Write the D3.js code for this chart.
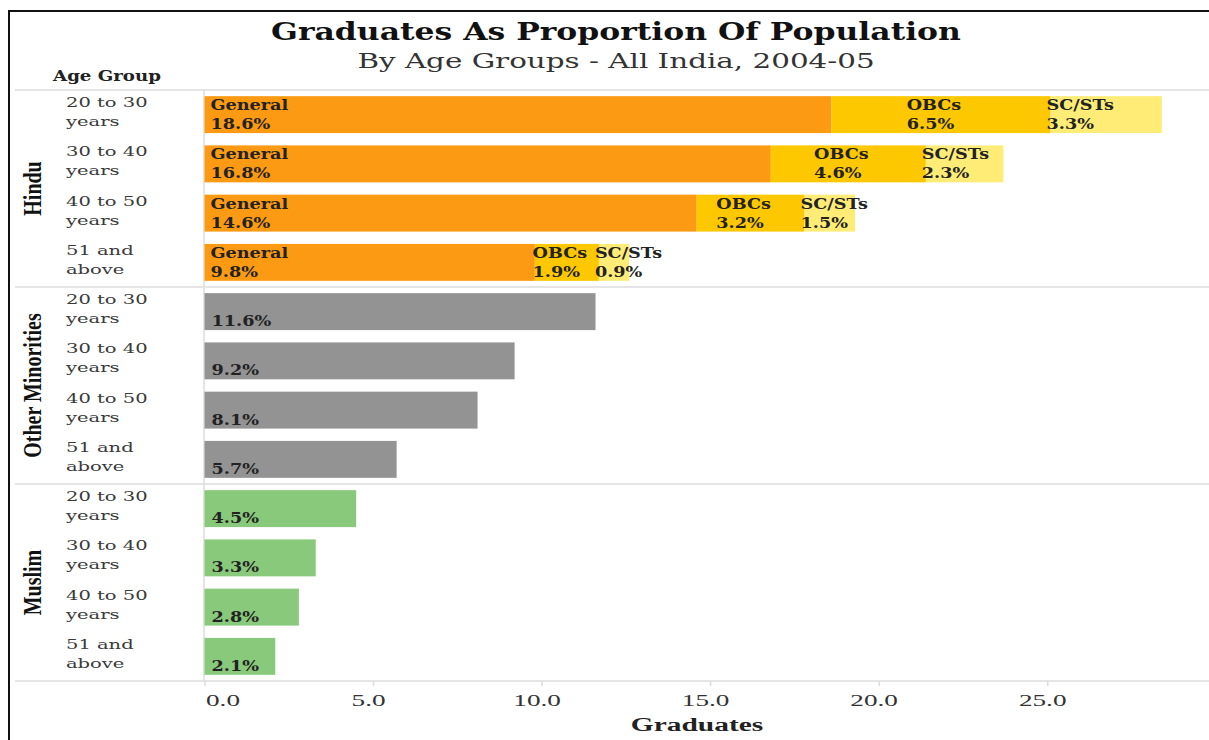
<!DOCTYPE html>
<html>
<head>
<meta charset="utf-8">
<script src="https://cdn.jsdelivr.net/npm/d3@7"></script>
<style>
  html, body { margin: 0; padding: 0; background: #fff; }
  svg { display: block; }
</style>
</head>
<body>
<svg id="chart" width="1209" height="740"></svg>
<script>
// ---- data ----
const religions = ["Hindu", "Other Minorities", "Muslim"];
const ageGroups = ["20 to 30 years", "30 to 40 years", "40 to 50 years", "51 and above"];
const ageLines = [["20 to 30", "years"], ["30 to 40", "years"], ["40 to 50", "years"], ["51 and", "above"]];
const casteKeys = ["General", "OBCs", "SC/STs"];
const hinduGeneral = [18.6, 16.8, 14.6, 9.8];
const hinduOBCs = [6.5, 4.6, 3.2, 1.9];
const hinduSCSTs = [3.3, 2.3, 1.5, 0.9];
const otherMinorities = [11.6, 9.2, 8.1, 5.7];
const muslim = [4.5, 3.3, 2.8, 2.1];
const xTicks = [0, 5, 10, 15, 20, 25];

const titleText = "Graduates As Proportion Of Population";
const subtitleText = "By Age Groups - All India, 2004-05";
const rowHeaderText = "Age Group";
const xAxisTitle = "Graduates";

// ---- styles ----
const casteColors = { "General": "#FD9A13", "OBCs": "#FEC800", "SC/STs": "#FFEC76" };
const religionColors = { "Other Minorities": "#939393", "Muslim": "#89C97B" };
const SERIF_A = "'DejaVu Serif', serif";
const SERIF_T = "'Liberation Serif', 'Times New Roman', serif";

const svg = d3.select("#chart");
const W = 1209, H = 740;

// helper: horizontally stretched text
function stext(g, str, x, y, o) {
  const t = g.append("text")
    .attr("transform", `translate(${x},${y}) scale(${o.sx || 1},1)` + (o.rot ? ` rotate(${o.rot})` : ""))
    .attr("font-family", o.family)
    .attr("font-size", o.size)
    .attr("font-weight", o.weight || "normal")
    .attr("fill", o.fill || "#222")
    .attr("text-anchor", o.anchor || "start")
    .text(str);
  return t;
}

// frame
svg.append("path")
  .attr("d", `M9,${H + 5}V11H${W + 5}`)
  .attr("fill", "none").attr("stroke", "#111").attr("stroke-width", 2);

// title
stext(svg, titleText, 616, 40, { family: SERIF_A, size: 24, weight: "bold", sx: 1.31, anchor: "middle", fill: "#111" });
stext(svg, subtitleText, 616, 68, { family: SERIF_A, size: 20, sx: 1.47, anchor: "middle", fill: "#333" });
stext(svg, rowHeaderText, 107, 81, { family: SERIF_A, size: 14, weight: "bold", sx: 1.3, anchor: "middle", fill: "#222" });

// scales
const plotLeft = 204.5, plotRight = 1209, plotTop = 90, plotBottom = 681;
const x = d3.scaleLinear().domain([0, 29.8]).range([plotLeft, plotRight]);
const yPanel = d3.scaleBand().domain(religions).range([plotTop, plotBottom]).padding(0);
const yRow = d3.scaleBand().domain(ageGroups).range([0, yPanel.bandwidth()]).paddingInner(0.25).paddingOuter(0.125);
const yRowFull = d3.scaleBand().domain(ageGroups).range([0, yPanel.bandwidth()]).padding(0);

// grid / separators
const gridColor = "#dcdcdc";
const seps = religions.map(r => yPanel(r)).concat([plotBottom]);
svg.append("g").selectAll("line").data(seps).join("line")
  .attr("x1", 15).attr("x2", W).attr("y1", d => d).attr("y2", d => d)
  .attr("stroke", gridColor).attr("stroke-width", 1.5);
svg.append("line").attr("x1", plotLeft - 0.5).attr("x2", plotLeft - 0.5)
  .attr("y1", plotTop).attr("y2", plotBottom)
  .attr("stroke", gridColor).attr("stroke-width", 1.5);

// panels
const labelFont = { family: SERIF_A, size: 14, weight: "bold", sx: 1.26, fill: "#222" };

religions.forEach((rel, ri) => {
  const g = svg.append("g").attr("transform", `translate(0,${yPanel(rel)})`);
  // panel label (rotated)
  stext(g, rel, 41, yPanel.bandwidth() / 2, { family: SERIF_T, size: 20, weight: "bold", sx: 1.25, rot: -90, anchor: "middle", fill: "#111" });
  // age labels
  ageGroups.forEach((a, ai) => {
    const top = yRowFull(a);
    stext(g, ageLines[ai][0], 66, top + 17, { family: SERIF_A, size: 13, sx: 1.5, fill: "#3a3a3a" });
    stext(g, ageLines[ai][1], 66, top + 36, { family: SERIF_A, size: 13, sx: 1.5, fill: "#3a3a3a" });
  });

  if (rel === "Hindu") {
    const rows = ageGroups.map((a, i) => ({ age: a, "General": hinduGeneral[i], "OBCs": hinduOBCs[i], "SC/STs": hinduSCSTs[i] }));
    const stacked = d3.stack().keys(casteKeys)(rows);
    stacked.forEach(layer => {
      const key = layer.key;
      layer.forEach(d => {
        const a = d.data.age;
        const x0 = x(d[0]), x1 = x(d[1]);
        const by = yRow(a), bh = yRow.bandwidth();
        g.append("rect").attr("x", x0).attr("y", by).attr("width", x1 - x0).attr("height", bh)
          .attr("fill", casteColors[key]);
      });
    });
    // labels on top
    stacked.forEach(layer => {
      const key = layer.key;
      layer.forEach(d => {
        const a = d.data.age;
        const x0 = x(d[0]), x1 = x(d[1]);
        const by = yRow(a), bh = yRow.bandwidth();
        const val = (d[1] - d[0]).toFixed(1) + "%";
        const lg = g.append("g");
        const t1 = stext(lg, key, 0, by + 14, labelFont);
        const t2 = stext(lg, val, 0, by + bh - 4, labelFont);
        const w = Math.max(t1.node().getComputedTextLength(), t2.node().getComputedTextLength()) * labelFont.sx;
        let lx;
        if (key === "General") lx = x0 + 6;
        else if (key === "OBCs") lx = (x0 + x1) / 2 - w / 2 - 7;
        else lx = x0 - 4;
        lg.attr("transform", `translate(${lx},0)`);
      });
    });
  } else {
    const vals = rel === "Muslim" ? muslim : otherMinorities;
    ageGroups.forEach((a, i) => {
      const by = yRow(a), bh = yRow.bandwidth();
      g.append("rect").attr("x", x(0)).attr("y", by).attr("width", x(vals[i]) - x(0)).attr("height", bh)
        .attr("fill", religionColors[rel]);
      stext(g, vals[i].toFixed(1) + "%", x(0) + 7, by + bh - 4, labelFont);
    });
  }
});

// x axis
const axis = d3.axisBottom(x).tickValues(xTicks).tickSize(5).tickFormat(d3.format(".1f"));
const ag = svg.append("g").attr("transform", `translate(0,${plotBottom})`).call(axis);
ag.select(".domain").remove();
ag.selectAll(".tick line").attr("stroke", gridColor).attr("stroke-width", 1.5);
ag.selectAll(".tick text")
  .attr("y", null).attr("dy", null)
  .attr("font-family", SERIF_T).attr("font-size", 17).attr("fill", "#333")
  .attr("text-anchor", (d, i) => i === 0 ? "start" : "middle")
  .attr("transform", (d, i) => i === 0 ? "translate(1,25) scale(1.6,1)" : "translate(-5,25) scale(1.6,1)");

stext(svg, xAxisTitle, 697, 731, { family: SERIF_T, size: 19, weight: "bold", sx: 1.55, anchor: "middle", fill: "#222" });
</script>
</body>
</html>
